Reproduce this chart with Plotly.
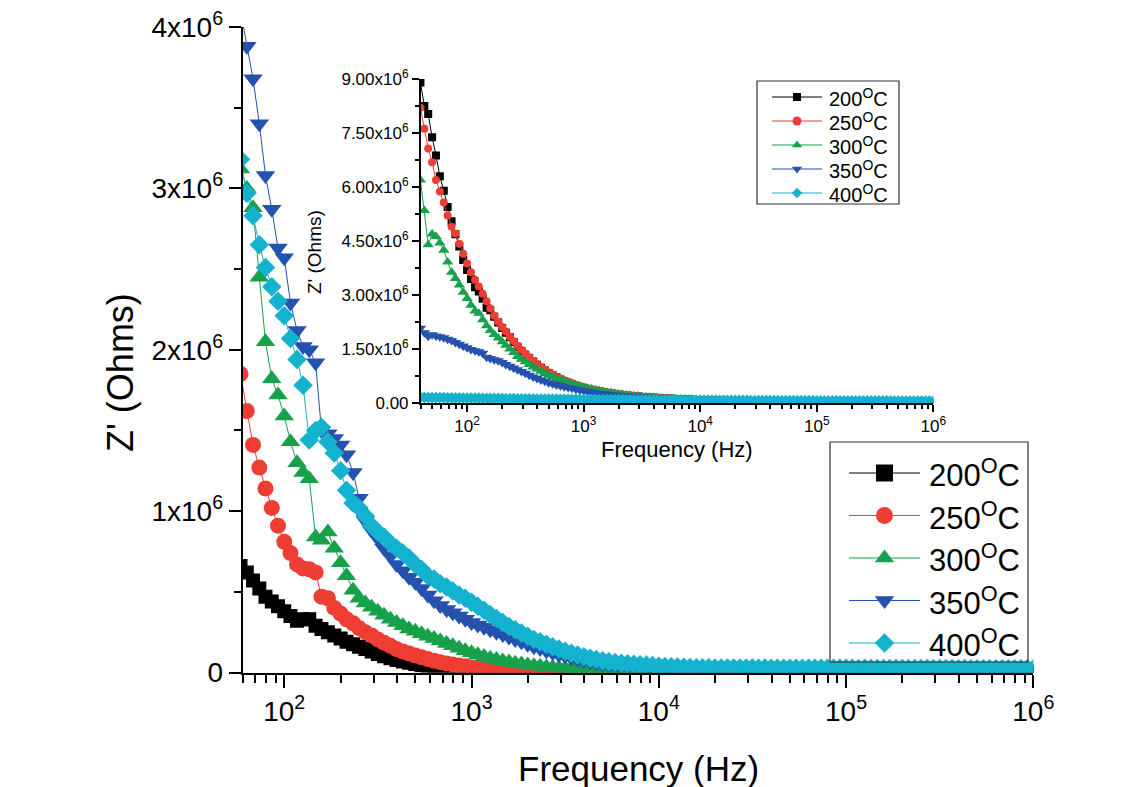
import math
import plotly.graph_objects as go

W, H = 1140, 787
FONT = "Liberation Sans, Arial, Helvetica, sans-serif"

# Frequency sweep (Hz), 30 points per decade, 40 Hz .. 1 MHz
freq_hz = [
    39.8, 43.0, 46.4, 50.1, 54.1, 58.4, 63.1, 68.1, 73.6, 79.4, 85.8, 92.6,
    100, 108, 117, 126, 136, 147, 158, 171, 185, 200, 215, 233, 251, 271, 293,
    316, 341, 369, 398, 430, 464, 501, 541, 584, 631, 681, 736, 794, 858, 926,
    1000, 1080, 1166, 1259, 1359, 1468, 1585, 1711, 1848, 1995, 2154, 2326, 2512, 2712, 2929,
    3162, 3415, 3687, 3981, 4299, 4642, 5012, 5412, 5843, 6310, 6813, 7356, 7943, 8577, 9261,
    10000, 10798, 11659, 12589, 13594, 14678, 15849, 17113, 18478, 19953, 21544, 23263, 25119, 27123, 29286,
    31623, 34145, 36869, 39811, 42987, 46416, 50119, 54117, 58434, 63096, 68129, 73564, 79433, 85770, 92612,
    100000, 107978, 116591, 125893, 135936, 146780, 158489, 171133, 184785, 199526, 215443, 232631, 251189, 271227, 292864,
    316228, 341455, 368695, 398107, 429866, 464159, 501187, 541170, 584341, 630957, 681292, 735642, 794328, 857696, 926119,
    1000000,
]

temperatures = ["200", "250", "300", "350", "400"]
colors = ["#000000", "#EE3D33", "#17A14A", "#2452AE", "#13B2CF"]
symbols = ["square", "circle", "triangle-up", "triangle-down", "diamond"]

# Main panel: Z' in units of 1e4 Ohm, sweep from 58 Hz (freq_hz[5:])
main_z_200 = [
    66, 62, 57, 52, 47, 44, 41,
    38, 35, 32, 33, 33, 29, 27, 25, 23, 21, 19, 17.5, 16, 14.5, 13,
    11.5, 10, 8.8, 7.8, 6.8, 6.0, 5.2, 4.5, 3.9, 3.4, 2.9, 2.5, 2.2, 1.9, 1.7,
    1.5, 1.35, 1.2, 1.1, 1.0, 0.92, 0.85, 0.8, 0.75, 0.7, 0.66, 0.63, 0.6, 0.58, 0.56,
    0.54, 0.52, 0.5, 0.49, 0.48, 0.47, 0.46, 0.45, 0.44, 0.43, 0.42, 0.41, 0.4, 0.4, 0.39,
    0.38, 0.38, 0.37, 0.37, 0.36, 0.36, 0.35, 0.35, 0.34, 0.34, 0.33, 0.33, 0.32, 0.32, 0.31,
    0.31, 0.3, 0.3, 0.29, 0.29, 0.28, 0.28, 0.27, 0.27, 0.26, 0.26, 0.25, 0.25, 0.24, 0.24,
    0.23, 0.23, 0.22, 0.22, 0.21, 0.21, 0.2, 0.2, 0.19, 0.19, 0.18, 0.18, 0.17, 0.17, 0.16,
    0.16, 0.15, 0.15, 0.14, 0.14, 0.13, 0.13, 0.12, 0.12, 0.11, 0.11, 0.1, 0.1, 0.1, 0.1,
    0.1,
]
main_z_250 = [
    185, 162, 141, 127, 114, 102, 91,
    81, 74, 67, 64.5, 64, 62, 47, 46, 40, 36.5, 33, 30.5, 27.5, 25, 23,
    20.5, 18.5, 16.5, 14.5, 13, 11.7, 10.5, 9.4, 8.3, 7.3, 6.4, 5.6, 4.9, 4.3, 3.8,
    3.3, 2.9, 2.6, 2.3, 2.05, 1.85, 1.65, 1.5, 1.38, 1.27, 1.18, 1.1, 1.04, 0.99, 0.95,
    0.92, 0.89, 0.86, 0.84, 0.82, 0.8, 0.78, 0.77, 0.76, 0.75, 0.74, 0.73, 0.72, 0.71, 0.7,
    0.69, 0.68, 0.67, 0.66, 0.65, 0.64, 0.63, 0.62, 0.61, 0.6, 0.59, 0.58, 0.57, 0.56, 0.55,
    0.54, 0.53, 0.52, 0.51, 0.5, 0.49, 0.48, 0.47, 0.46, 0.45, 0.44, 0.43, 0.42, 0.41, 0.4,
    0.39, 0.39, 0.38, 0.38, 0.37, 0.37, 0.36, 0.36, 0.35, 0.35, 0.34, 0.34, 0.33, 0.33, 0.32,
    0.32, 0.31, 0.31, 0.3, 0.3, 0.29, 0.29, 0.28, 0.28, 0.27, 0.27, 0.26, 0.26, 0.25, 0.25,
    0.25,
]
main_z_300 = [
    312, 300, 288, 245, 205, 182, 172,
    159, 143, 130, 124, 120, 84, 82, 87, 77, 68, 60, 51, 46, 43, 40.5,
    38, 35.5, 33, 31, 29, 27, 25.5, 24, 22.5, 21, 19.5, 18, 16.5, 15, 13.5,
    12.2, 11, 9.9, 8.9, 8.0, 7.2, 6.5, 5.8, 5.2, 4.7, 4.2, 3.8, 3.4, 3.1, 2.8,
    2.55, 2.35, 2.2, 2.05, 1.95, 1.85, 1.78, 1.72, 1.66, 1.61, 1.57, 1.53, 1.5, 1.47, 1.44,
    1.41, 1.39, 1.37, 1.35, 1.33, 1.31, 1.29, 1.27, 1.25, 1.23, 1.21, 1.19, 1.17, 1.15, 1.13,
    1.11, 1.09, 1.07, 1.05, 1.03, 1.01, 0.99, 0.97, 0.95, 0.93, 0.91, 0.89, 0.87, 0.85, 0.83,
    0.82, 0.81, 0.8, 0.79, 0.78, 0.77, 0.76, 0.75, 0.74, 0.73, 0.72, 0.71, 0.7, 0.69, 0.68,
    0.67, 0.66, 0.65, 0.64, 0.63, 0.62, 0.61, 0.6, 0.59, 0.58, 0.57, 0.56, 0.55, 0.54, 0.53,
    0.52,
]
main_z_350 = [
    410, 388, 368, 340, 308, 287, 263,
    257, 229, 212, 202, 200, 192, 150, 148, 145, 141, 135, 124, 108, 94, 88,
    83, 77, 72, 67, 63, 59, 56, 52, 48, 44.5, 41.5, 39, 37, 35, 33,
    31, 29.5, 28, 26.5, 25, 23.5, 22, 20.5, 19, 17.5, 16, 14.8, 13.5, 12.3, 11.2,
    10.2, 9.2, 8.3, 7.4, 6.6, 5.9, 5.3, 4.8, 4.3, 3.9, 3.6, 3.3, 3.1, 2.95, 2.85,
    2.75, 2.7, 2.65, 2.6, 2.56, 2.52, 2.48, 2.45, 2.42, 2.39, 2.36, 2.33, 2.3, 2.27, 2.24,
    2.21, 2.18, 2.15, 2.12, 2.09, 2.06, 2.03, 2.0, 1.98, 1.96, 1.94, 1.92, 1.9, 1.88, 1.86,
    1.84, 1.82, 1.8, 1.79, 1.78, 1.77, 1.76, 1.75, 1.74, 1.73, 1.72, 1.71, 1.7, 1.69, 1.68,
    1.67, 1.66, 1.65, 1.64, 1.63, 1.62, 1.61, 1.6, 1.59, 1.58, 1.57, 1.56, 1.55, 1.54, 1.53,
    1.52,
]
main_z_400 = [
    318, 297, 283, 265, 251, 239, 230,
    221, 207, 194, 178, 144, 150, 152, 143, 136, 125, 113, 105, 102, 97, 91,
    87, 84, 80, 77, 74, 71, 67, 64, 60, 58, 55, 53, 50.5, 48, 46,
    43.5, 41, 38.5, 36, 33.5, 31, 28.5, 26.5, 24.5, 22.5, 20.5, 19, 17.5, 16, 14.5,
    13.2, 12, 10.8, 9.8, 8.8, 8, 7.3, 6.7, 6.2, 5.8, 5.4, 5.1, 4.8, 4.6, 4.4,
    3.9, 3.7, 3.5, 3.35, 3.2, 3.1, 3.0, 2.95, 2.9, 2.85, 2.8, 2.8, 2.75, 2.8, 2.75,
    2.75, 2.7, 2.75, 2.7, 2.7, 2.7, 2.65, 2.7, 2.65, 2.65, 2.65, 2.6, 2.65, 2.6, 2.6,
    2.6, 2.6, 2.55, 2.6, 2.55, 2.55, 2.55, 2.5, 2.55, 2.5, 2.5, 2.5, 2.5, 2.45, 2.5,
    2.45, 2.45, 2.45, 2.4, 2.45, 2.4, 2.4, 2.4, 2.4, 2.35, 2.4, 2.35, 2.35, 2.35, 2.3,
    2.3,
]

# Inset panel: Z' in units of 1e4 Ohm, full sweep from 40 Hz
inset_z_200 = [
    890, 825, 803, 738, 688, 630, 590, 545, 505, 469, 435, 398,
    370, 345, 322, 310, 290, 265, 258, 240, 224, 209, 196, 183, 170, 157, 145,
    135, 126, 116, 107, 99, 91, 84, 78, 72, 66, 61, 57, 53, 49, 45.5,
    42.5, 39.5, 37, 34.5, 32.5, 30.5, 28.7, 27, 25.5, 24, 22.7, 21.5, 20.5, 19.5, 18.6,
    17.8, 17, 16.3, 15.6, 15, 14.4, 13.8, 13.2, 12.6, 12, 11.4, 10.8, 10.3, 9.8, 9.3,
    8.9, 8.5, 8.1, 7.8, 7.5, 7.2, 6.9, 6.6, 6.4, 6.2, 6.0, 5.8, 5.6, 5.4, 5.3,
    5.2, 5.1, 5.0, 4.9, 4.8, 4.7, 4.6, 4.5, 4.4, 4.3, 4.2, 4.1, 4.0, 3.95, 3.9,
    3.85, 3.8, 3.75, 3.7, 3.65, 3.6, 3.55, 3.5, 3.45, 3.4, 3.35, 3.3, 3.25, 3.2, 3.15,
    3.1, 3.05, 3.0, 2.95, 2.9, 2.85, 2.8, 2.75, 2.7, 2.65, 2.6, 2.55, 2.5, 2.45, 2.4,
    2.4,
]
inset_z_250 = [
    820, 762, 707, 669, 620, 588, 557, 521, 490, 471, 443, 415,
    388, 364, 343, 324, 304, 283, 263, 243, 226, 212, 199, 185, 172, 159, 148,
    138, 128, 118, 109, 101, 93.5, 86, 80, 74, 68.5, 64, 59.5, 55.5, 51.5, 48,
    45, 42, 39.5, 37, 35, 33, 31, 29, 27.5, 26, 24.5, 23, 22, 21, 20,
    19.2, 18.4, 17.7, 17, 16.3, 15.6, 14.9, 14.2, 13.5, 12.8, 12.1, 11.5, 10.9, 10.3, 9.8,
    9.3, 8.9, 8.5, 8.1, 7.8, 7.5, 7.2, 6.9, 6.7, 6.5, 6.3, 6.1, 5.9, 5.7, 5.5,
    5.4, 5.3, 5.2, 5.1, 5.0, 4.9, 4.8, 4.7, 4.6, 4.5, 4.4, 4.3, 4.2, 4.15, 4.1,
    4.05, 4.0, 3.95, 3.9, 3.85, 3.8, 3.75, 3.7, 3.65, 3.6, 3.55, 3.5, 3.45, 3.4, 3.35,
    3.3, 3.25, 3.2, 3.15, 3.1, 3.05, 3.0, 2.95, 2.9, 2.85, 2.8, 2.75, 2.7, 2.65, 2.6,
    2.6,
]
inset_z_300 = [
    620, 535, 440, 470, 463, 445, 425, 392, 364, 346, 328, 308,
    291, 272, 256, 250, 232, 215, 202, 191, 181, 171, 161, 151, 141, 130, 122,
    115, 108, 101, 95, 89, 83, 78, 73, 69, 65, 61, 57, 53.5, 50, 47,
    44.5, 42, 39.5, 37, 35, 33, 31, 29, 27.3, 25.8, 24.3, 23, 21.8, 20.6, 19.5,
    18.5, 17.5, 16.6, 15.8, 15, 14.2, 13.5, 12.8, 12.1, 11.5, 10.9, 10.3, 9.8, 9.3, 8.9,
    8.5, 8.1, 7.8, 7.5, 7.2, 6.9, 6.7, 6.5, 6.3, 6.1, 5.9, 5.7, 5.5, 5.4, 5.3,
    5.2, 5.1, 5.0, 4.9, 4.8, 4.7, 4.6, 4.5, 4.4, 4.3, 4.2, 4.1, 4.05, 4.0, 3.95,
    3.9, 3.85, 3.8, 3.75, 3.7, 3.65, 3.6, 3.55, 3.5, 3.45, 3.4, 3.35, 3.3, 3.25, 3.2,
    3.15, 3.1, 3.05, 3.0, 2.95, 2.9, 2.85, 2.8, 2.75, 2.7, 2.65, 2.6, 2.55, 2.5, 2.45,
    2.45,
]
inset_z_350 = [
    208, 196, 186, 190, 187, 185, 182, 178, 174, 169, 164, 159,
    154, 149, 146, 143, 139, 128, 124, 121, 118, 113, 108, 103, 98, 93, 88,
    83.5, 78, 73, 68.5, 64.5, 61, 57, 54, 51, 48.5, 46, 44, 41.5, 39, 37,
    35, 33, 31, 29.2, 27.6, 26.2, 25, 23.8, 22.8, 21.8, 21, 20.2, 19.4, 18.7, 18,
    17.3, 16.6, 15.9, 15.2, 14.5, 13.9, 13.3, 12.7, 12.1, 11.5, 11, 10.5, 10, 9.6, 9.2,
    8.8, 8.4, 8.0, 7.7, 7.4, 7.1, 6.8, 6.6, 6.4, 6.2, 6.0, 5.8, 5.6, 5.5, 5.4,
    5.3, 5.2, 5.1, 5.0, 4.9, 4.8, 4.7, 4.6, 4.5, 4.4, 4.3, 4.2, 4.15, 4.1, 4.05,
    4.0, 3.95, 3.9, 3.85, 3.8, 3.75, 3.7, 3.65, 3.6, 3.55, 3.5, 3.45, 3.4, 3.35, 3.3,
    3.25, 3.2, 3.15, 3.1, 3.05, 3.0, 2.95, 2.9, 2.85, 2.8, 2.75, 2.7, 2.65, 2.6, 2.55,
    2.55,
]
inset_z_400 = [
    16.5, 16.3, 16.1, 15.9, 15.8, 15.6, 15.5, 15.3, 15.2, 15.0, 14.9, 14.7,
    14.6, 14.4, 14.3, 14.1, 14.0, 13.8, 13.7, 13.5, 13.4, 13.2, 13.1, 12.9, 12.8, 12.6, 12.5,
    12.3, 12.2, 12.0, 11.9, 11.8, 11.7, 11.6, 11.5, 11.4, 11.3, 11.2, 11.1, 11.0, 10.9, 10.8,
    10.7, 10.6, 10.5, 10.45, 10.4, 10.3, 10.2, 10.15, 10.1, 10.0, 9.9, 9.85, 9.8, 9.7, 9.6,
    9.55, 9.5, 9.4, 9.3, 9.25, 9.2, 9.1, 9.0, 8.95, 8.9, 8.8, 8.7, 8.65, 8.6, 8.5,
    8.45, 8.4, 8.35, 8.3, 8.25, 8.2, 8.15, 8.1, 8.05, 8.0, 7.95, 7.9, 7.85, 7.8, 7.75,
    7.7, 7.65, 7.6, 7.55, 7.5, 7.45, 7.4, 7.4, 7.35, 7.3, 7.3, 7.25, 7.2, 7.2, 7.15,
    7.1, 7.1, 7.05, 7.0, 7.0, 6.95, 6.9, 6.9, 6.85, 6.8, 6.8, 6.75, 6.7, 6.7, 6.65,
    6.6, 6.6, 6.55, 6.5, 6.5, 6.45, 6.4, 6.4, 6.35, 6.3, 6.3, 6.25, 6.2, 6.2, 6.15,
    6.1,
]

main_series = [main_z_200, main_z_250, main_z_300, main_z_350, main_z_400]
inset_series = [inset_z_200, inset_z_250, inset_z_300, inset_z_350, inset_z_400]

main_freq = freq_hz[5:]
for s in main_series:
    if len(s) != len(main_freq):
        raise ValueError("main series length mismatch: %d vs %d" % (len(s), len(main_freq)))
for s in inset_series:
    if len(s) != len(freq_hz):
        raise ValueError("inset series length mismatch: %d vs %d" % (len(s), len(freq_hz)))

UNIT = 1e4  # series are stored in units of 1e4 Ohm


def px(x):
    return x / W


def py(y):
    return 1 - y / H


def sup_label(text):
    return f"{text}<sup>O</sup>C"


fig = go.Figure()

main_sizes = [14, 16, 17, 17, 15]
inset_sizes = [8, 8, 10, 10, 9]

for name, col, sym, sz, vals in zip(temperatures, colors, symbols, main_sizes, main_series):
    fig.add_trace(go.Scatter(
        x=main_freq, y=[v * UNIT for v in vals], mode="lines+markers",
        name=sup_label(name), showlegend=False,
        line=dict(color=col, width=1),
        marker=dict(symbol=sym, size=sz, color=col, line=dict(width=0)),
        xaxis="x", yaxis="y",
    ))

for name, col, sym, sz, vals in zip(temperatures, colors, symbols, inset_sizes, inset_series):
    fig.add_trace(go.Scatter(
        x=freq_hz, y=[v * UNIT for v in vals], mode="lines+markers",
        name=sup_label(name), showlegend=False,
        line=dict(color=col, width=1),
        marker=dict(symbol=sym, size=sz, color=col, line=dict(width=0)),
        xaxis="x2", yaxis="y2",
    ))

# Legend swatches drawn on a pixel-space overlay axis
MAIN_LEG = dict(box=(830, 442, 1028, 662), y0=473, dy=42.5, lx=(849, 920), tx=927,
                font=31, msize=[17, 17, 17, 17, 15])
INSET_LEG = dict(box=(757, 81, 899, 204), y0=97, dy=24, lx=(772, 822), tx=827,
                 font=20, msize=[8, 9, 9, 9, 8])

annotations = []
shapes = []
for leg in (MAIN_LEG, INSET_LEG):
    x0, y0, x1, y1 = leg["box"]
    shapes.append(dict(type="rect", xref="x3", yref="y3", x0=x0, y0=y0, x1=x1, y1=y1,
                       line=dict(color="#333333", width=1.2), fillcolor="rgba(0,0,0,0)",
                       layer="above"))
    for i, (name, col, sym) in enumerate(zip(temperatures, colors, symbols)):
        yy = leg["y0"] + i * leg["dy"]
        lxa, lxb = leg["lx"]
        fig.add_trace(go.Scatter(
            x=[lxa, lxb], y=[yy, yy], mode="lines", showlegend=False,
            line=dict(color=col, width=1.2), xaxis="x3", yaxis="y3", hoverinfo="skip",
        ))
        fig.add_trace(go.Scatter(
            x=[(lxa + lxb) / 2], y=[yy], mode="markers", showlegend=False,
            marker=dict(symbol=sym, size=leg["msize"][i], color=col, line=dict(width=0)),
            xaxis="x3", yaxis="y3", hoverinfo="skip",
        ))
        annotations.append(dict(
            x=leg["tx"], y=yy, xref="x3", yref="y3", text=sup_label(name),
            showarrow=False, xanchor="left", yanchor="middle",
            font=dict(family=FONT, size=leg["font"], color="black"),
        ))

# Axis titles
annotations += [
    dict(x=px(120), y=py(373), xref="paper", yref="paper", text="Z' (Ohms)", textangle=-90,
         showarrow=False, xanchor="center", yanchor="middle",
         font=dict(family=FONT, size=36, color="black")),
    dict(x=px(638), y=py(768), xref="paper", yref="paper", text="Frequency (Hz)",
         showarrow=False, xanchor="center", yanchor="middle",
         font=dict(family=FONT, size=35, color="black")),
    dict(x=px(315), y=py(252), xref="paper", yref="paper", text="Z' (Ohms)", textangle=-90,
         showarrow=False, xanchor="center", yanchor="middle",
         font=dict(family=FONT, size=19, color="black")),
    dict(x=px(677), y=py(449), xref="paper", yref="paper", text="Frequency (Hz)",
         showarrow=False, xanchor="center", yanchor="middle",
         font=dict(family=FONT, size=22, color="black")),
]

decades = [100, 1000, 10000, 100000, 1000000]
decade_text = ["10<sup>2</sup>", "10<sup>3</sup>", "10<sup>4</sup>", "10<sup>5</sup>", "10<sup>6</sup>"]
minor_log = [m * 10 ** e for e in range(1, 6) for m in range(2, 10)]

main_y_ticks = [0, 1e6, 2e6, 3e6, 4e6]
main_y_text = ["0", "1x10<sup>6</sup>", "2x10<sup>6</sup>", "3x10<sup>6</sup>", "4x10<sup>6</sup>"]
inset_y_ticks = [0, 1.5e6, 3e6, 4.5e6, 6e6, 7.5e6, 9e6]
inset_y_text = ["0.00"] + [f"{v / 1e6:.2f}x10<sup>6</sup>" for v in inset_y_ticks[1:]]

axis_common = dict(showgrid=False, zeroline=False, showline=True, linecolor="black",
                   ticks="outside", tickcolor="black", automargin=False, mirror=False)

fig.update_layout(
    width=W, height=H,
    margin=dict(l=0, r=0, t=0, b=0),
    paper_bgcolor="white", plot_bgcolor="rgba(0,0,0,0)",
    font=dict(family=FONT, color="black"),
    showlegend=False,
    xaxis=dict(**axis_common, type="log", range=[math.log10(60), 6],
               domain=[px(242.7), px(1033.3)], anchor="y",
               linewidth=2, ticklen=13, tickwidth=2,
               tickmode="array", tickvals=decades, ticktext=decade_text,
               tickfont=dict(size=28),
               minor=dict(tickmode="array", tickvals=minor_log, ticks="outside",
                          ticklen=8, tickwidth=2, tickcolor="black", showgrid=False)),
    yaxis=dict(**axis_common, range=[0, 4e6],
               domain=[py(672.5), py(27)], anchor="x",
               linewidth=2, ticklen=12, tickwidth=2,
               tickmode="array", tickvals=main_y_ticks, ticktext=main_y_text,
               tickfont=dict(size=28),
               minor=dict(tickmode="array", tickvals=[0.5e6, 1.5e6, 2.5e6, 3.5e6], ticks="outside",
                          ticklen=7, tickwidth=2, tickcolor="black", showgrid=False)),
    xaxis2=dict(**axis_common, type="log", range=[math.log10(40), 6],
                domain=[px(420.7), px(933.3)], anchor="y2",
                linewidth=1.5, ticklen=7, tickwidth=1.5,
                tickmode="array", tickvals=decades, ticktext=decade_text,
                tickfont=dict(size=17),
                minor=dict(tickmode="array", tickvals=minor_log, ticks="outside",
                           ticklen=4, tickwidth=1.5, tickcolor="black", showgrid=False)),
    yaxis2=dict(**axis_common, range=[0, 9e6],
                domain=[py(403.3), py(79)], anchor="x2",
                linewidth=1.5, ticklen=7, tickwidth=1.5,
                tickmode="array", tickvals=inset_y_ticks, ticktext=inset_y_text,
                tickfont=dict(size=17),
                minor=dict(tickmode="array",
                           tickvals=[0.75e6, 2.25e6, 3.75e6, 5.25e6, 6.75e6, 8.25e6],
                           ticks="outside", ticklen=4, tickwidth=1.5, tickcolor="black",
                           showgrid=False)),
    xaxis3=dict(domain=[0, 1], range=[0, W], anchor="y3", visible=False,
                showticklabels=False, fixedrange=True),
    yaxis3=dict(domain=[0, 1], range=[H, 0], anchor="x3", visible=False,
                showticklabels=False, fixedrange=True),
    annotations=annotations,
    shapes=shapes,
)

fig.write_html("out.html")
